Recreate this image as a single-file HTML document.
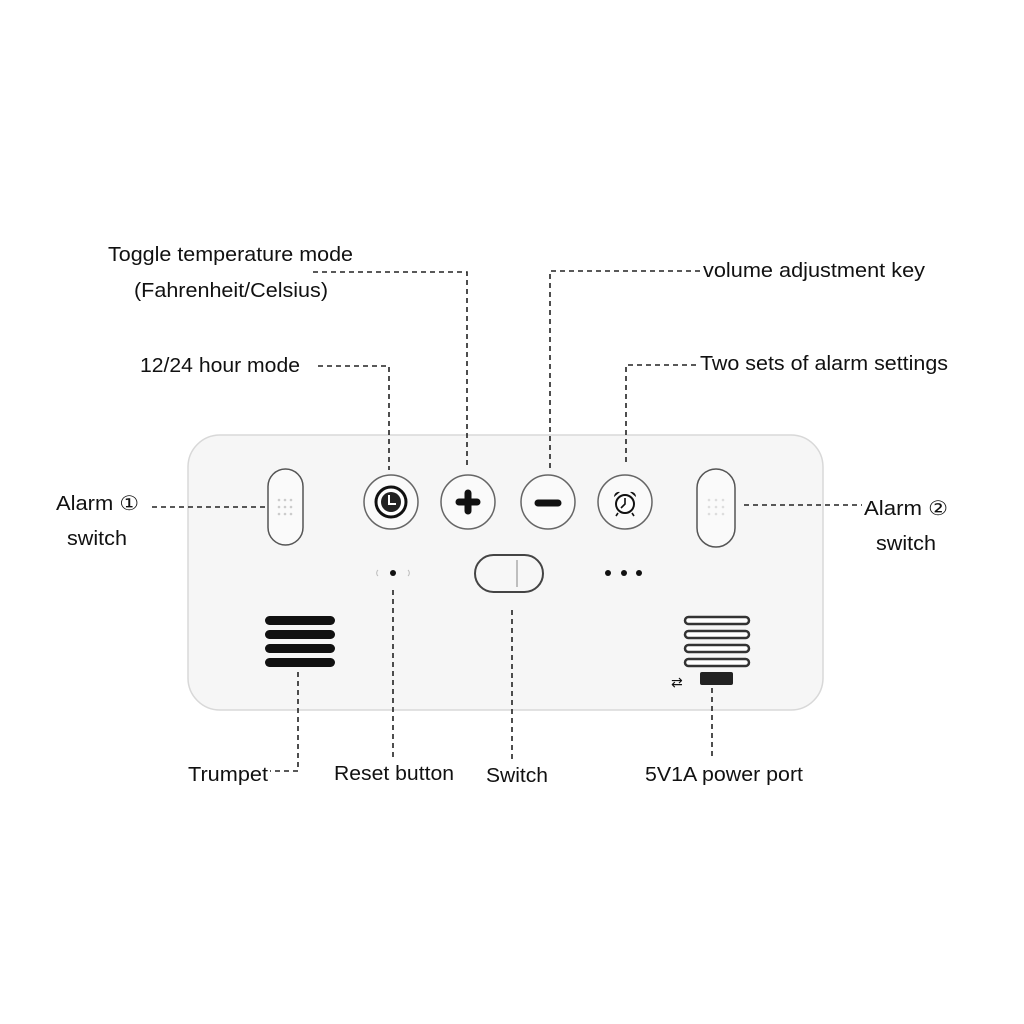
<!DOCTYPE html>
<html><head><meta charset="utf-8"><style>
html,body{margin:0;padding:0;background:#fff;}
svg{display:block;}
text{font-family:"Liberation Sans","DejaVu Sans",sans-serif;font-size:20px;fill:#111;}
</style></head><body>
<svg width="1024" height="1024" viewBox="0 0 1024 1024" xmlns="http://www.w3.org/2000/svg">
<rect x="188" y="435" width="635" height="275" rx="32" fill="#f6f6f6" stroke="#d8d8d8" stroke-width="1.5"/>

<g stroke="#222" stroke-width="1.6" stroke-dasharray="5,4" fill="none">
<polyline points="313,272 467,272 467,465"/>
<polyline points="318,366 389,366 389,470"/>
<polyline points="550,468 550,271 700,271"/>
<polyline points="626,462 626,365 697,365"/>
<line x1="152" y1="507" x2="268" y2="507"/>
<line x1="744" y1="505" x2="862" y2="505"/>
<polyline points="298,672 298,771 270,771"/>
<line x1="393" y1="590" x2="393" y2="760"/>
<line x1="512" y1="610" x2="512" y2="760"/>
<line x1="712" y1="688" x2="712" y2="758"/>
</g>

<rect x="268" y="469" width="35" height="76" rx="17.5" fill="#fafafa" stroke="#555" stroke-width="1.5"/>
<g fill="#ccc"><circle cx="279" cy="500" r="1.3"/><circle cx="285" cy="500" r="1.3"/><circle cx="291" cy="500" r="1.3"/><circle cx="279" cy="507" r="1.3"/><circle cx="285" cy="507" r="1.3"/><circle cx="291" cy="507" r="1.3"/><circle cx="279" cy="514" r="1.3"/><circle cx="285" cy="514" r="1.3"/><circle cx="291" cy="514" r="1.3"/></g>
<rect x="697" y="469" width="38" height="78" rx="19" fill="#fafafa" stroke="#555" stroke-width="1.5"/>
<g fill="#ddd"><circle cx="709" cy="500" r="1.3"/><circle cx="716" cy="500" r="1.3"/><circle cx="723" cy="500" r="1.3"/><circle cx="709" cy="507" r="1.3"/><circle cx="716" cy="507" r="1.3"/><circle cx="723" cy="507" r="1.3"/><circle cx="709" cy="514" r="1.3"/><circle cx="716" cy="514" r="1.3"/><circle cx="723" cy="514" r="1.3"/></g>

<g fill="#fafafa" stroke="#666" stroke-width="1.5">
<circle cx="391" cy="502" r="27"/>
<circle cx="468" cy="502" r="27"/>
<circle cx="548" cy="502" r="27"/>
<circle cx="625" cy="502" r="27"/>
</g>
<circle cx="391" cy="502" r="15" fill="#fff" stroke="#111" stroke-width="3"/>
<circle cx="391" cy="502" r="10" fill="#222"/>
<path d="M389 495 L389 504 L396 504" stroke="#fff" stroke-width="2" fill="none"/>
<path d="M459 502 H477 M468 493 V511" stroke="#111" stroke-width="7" stroke-linecap="round"/>
<path d="M538 503 H558" stroke="#111" stroke-width="7" stroke-linecap="round"/>
<circle cx="625" cy="504" r="9" fill="#fff" stroke="#111" stroke-width="2"/>
<path d="M625 498 V504 L621 508" stroke="#111" stroke-width="1.6" fill="none"/>
<path d="M614 497 a5 5 0 0 1 6 -5 Z M636 497 a5 5 0 0 0 -6 -5 Z" fill="#111"/>
<path d="M618 513 l-2 3 M632 513 l2 3" stroke="#111" stroke-width="1.6"/>

<circle cx="393" cy="573" r="3" fill="#111"/>
<path d="M378 570 a4 4 0 0 0 0 6 M408 570 a4 4 0 0 1 0 6" stroke="#bbb" fill="none"/>
<circle cx="608" cy="573" r="3" fill="#111"/><circle cx="624" cy="573" r="3" fill="#111"/><circle cx="639" cy="573" r="3" fill="#111"/>

<rect x="475" y="555" width="68" height="37" rx="18.5" fill="#f7f7f7" stroke="#444" stroke-width="2"/>
<line x1="517" y1="560" x2="517" y2="587" stroke="#aaa" stroke-width="1.5"/>

<g fill="#111">
<rect x="265" y="616" width="70" height="9" rx="4.5"/>
<rect x="265" y="630" width="70" height="9" rx="4.5"/>
<rect x="265" y="644" width="70" height="9" rx="4.5"/>
<rect x="265" y="658" width="70" height="9" rx="4.5"/>
</g>
<g fill="#fff" stroke="#333" stroke-width="2.5">
<rect x="685" y="617" width="64" height="7" rx="3.5"/>
<rect x="685" y="631" width="64" height="7" rx="3.5"/>
<rect x="685" y="645" width="64" height="7" rx="3.5"/>
<rect x="685" y="659" width="64" height="7" rx="3.5"/>
</g>
<rect x="700" y="672" width="33" height="13" rx="2" fill="#222"/>
<text x="671" y="687" style="font-size:14px">⇄</text>

<g lengthAdjust="spacingAndGlyphs">
<text x="108" y="261" textLength="245" lengthAdjust="spacingAndGlyphs">Toggle temperature mode</text>
<text x="134" y="297" textLength="194" lengthAdjust="spacingAndGlyphs">(Fahrenheit/Celsius)</text>
<text x="140" y="372" textLength="160" lengthAdjust="spacingAndGlyphs">12/24 hour mode</text>
<text x="703" y="277" textLength="222" lengthAdjust="spacingAndGlyphs">volume adjustment key</text>
<text x="700" y="370" textLength="248" lengthAdjust="spacingAndGlyphs">Two sets of alarm settings</text>
<text x="56" y="510" textLength="83" lengthAdjust="spacingAndGlyphs">Alarm ①</text>
<text x="67" y="545" textLength="60" lengthAdjust="spacingAndGlyphs">switch</text>
<text x="864" y="515" textLength="84" lengthAdjust="spacingAndGlyphs">Alarm ②</text>
<text x="876" y="550" textLength="60" lengthAdjust="spacingAndGlyphs">switch</text>
<text x="188" y="781" textLength="80" lengthAdjust="spacingAndGlyphs">Trumpet</text>
<text x="334" y="780" textLength="120" lengthAdjust="spacingAndGlyphs">Reset button</text>
<text x="486" y="782" textLength="62" lengthAdjust="spacingAndGlyphs">Switch</text>
<text x="645" y="781" textLength="158" lengthAdjust="spacingAndGlyphs">5V1A power port</text>
</g>
</svg>
</body></html>
